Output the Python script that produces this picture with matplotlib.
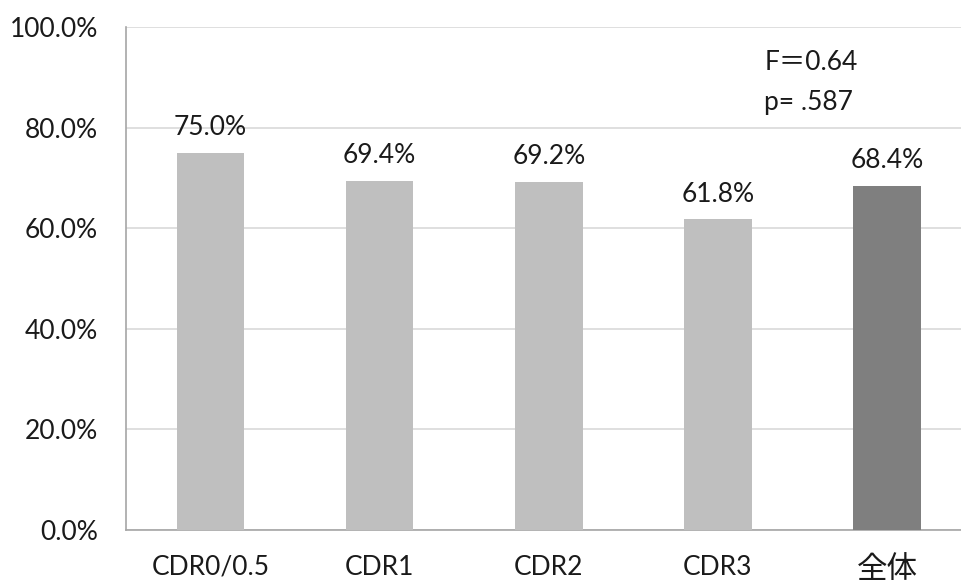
import matplotlib
matplotlib.use("Agg")
import matplotlib.pyplot as plt
from matplotlib.ticker import FuncFormatter

plt.rcParams['font.family'] = ['Lato', 'Noto Sans CJK JP', 'DejaVu Sans']

categories = ["CDR0/0.5", "CDR1", "CDR2", "CDR3", "全体"]
values = [75.0, 69.4, 69.2, 61.8, 68.4]
bar_colors = ["#BFBFBF", "#BFBFBF", "#BFBFBF", "#BFBFBF", "#7F7F7F"]
yticks = [0, 20, 40, 60, 80, 100]
stats_lines = ["F＝0.64", "p= .587"]

FS = 19
TXT = "#1a1a1a"

fig = plt.figure(figsize=(9.61, 5.84), dpi=100)
ax = fig.add_axes([126 / 961, 1 - 530 / 584, (971.5 - 126) / 961, (530 - 27) / 584])

x = list(range(len(categories)))
ax.bar(x, values, width=0.4, color=bar_colors, zorder=3)

for xi, v in zip(x, values):
    ax.annotate(f"{v:.1f}%", (xi, v), xytext=(0, 9), textcoords="offset points",
                ha="center", va="bottom", fontsize=FS, color=TXT)

ax.set_xlim(-0.5, 4.5)
ax.set_ylim(0, 100)
ax.set_yticks(yticks)
ax.yaxis.set_major_formatter(FuncFormatter(lambda v, p: f"{v:.1f}%"))
ax.set_xticks(x)
ax.set_xticklabels(categories)
ax.tick_params(axis="both", length=0, labelsize=FS, colors=TXT)
ax.tick_params(axis="y", pad=20)
ax.tick_params(axis="x", pad=18)
# the CJK label renders visually smaller at the same size; enlarge it a bit
ax.get_xticklabels()[-1].set_fontsize(22)

ax.grid(axis="y", color="#D9D9D9", linewidth=1.2, zorder=0)
for side in ["top", "right"]:
    ax.spines[side].set_visible(False)
ax.spines["left"].set_color("#A6A6A6")
ax.spines["bottom"].set_color("#A6A6A6")
ax.spines["left"].set_linewidth(1.2)
ax.spines["bottom"].set_linewidth(1.2)

ax.text(3.275, 93.0, stats_lines[0], fontsize=FS, color=TXT, ha="left", va="center")
ax.text(3.275, 85.0, stats_lines[1], fontsize=FS, color=TXT, ha="left", va="center")

fig.savefig("out.png", dpi=100)
